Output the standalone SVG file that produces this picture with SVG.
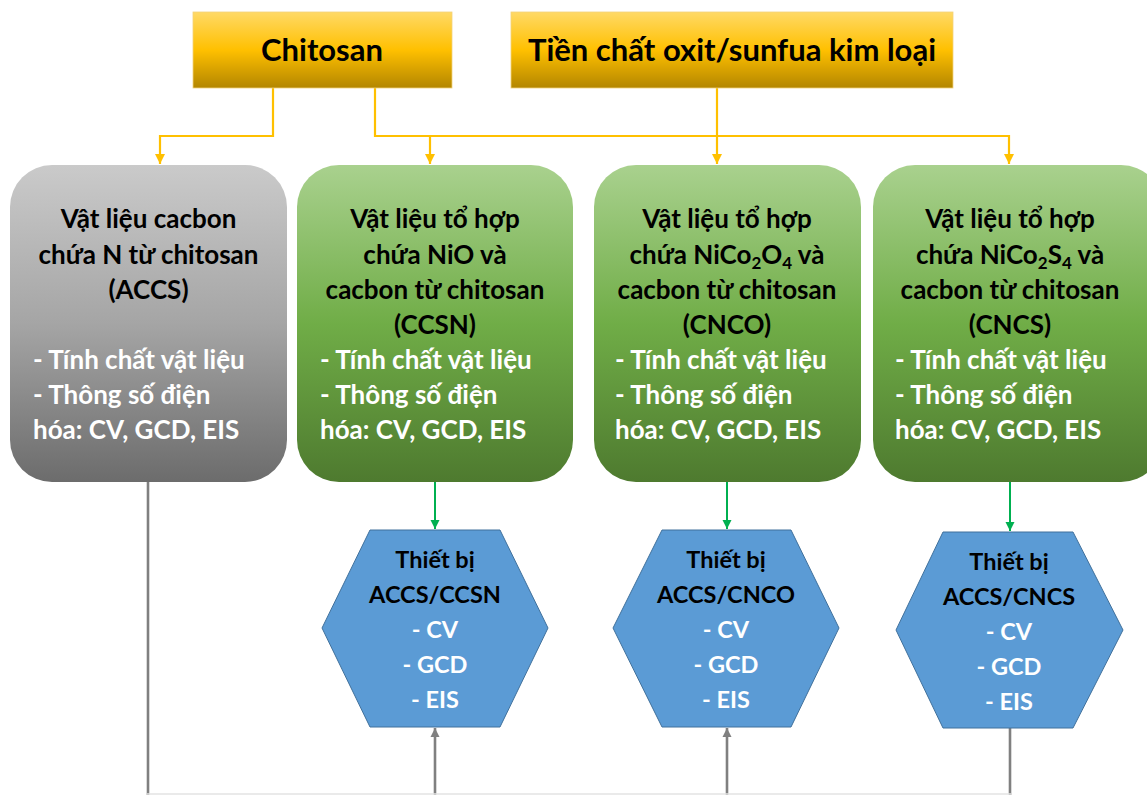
<svg xmlns="http://www.w3.org/2000/svg" width="1147" height="795" viewBox="0 0 1147 795">
<style>
text{font-family:Lato,"Liberation Sans",sans-serif;font-weight:bold}
.t{font-size:31px;fill:#000;text-anchor:middle}
.b{font-size:26px;fill:#000;text-anchor:middle}
.w{font-size:26px;fill:#fff}
.h{font-size:23.5px;fill:#000;text-anchor:middle}
.wc{font-size:23.5px;fill:#fff;text-anchor:middle}
.or{stroke:#ffc000;stroke-width:2.2;fill:none}
.gr{stroke:#00b050;stroke-width:2;fill:none}
.gy{stroke:#808080;stroke-width:2.6;fill:none}
.hex{fill:#5b9bd5;stroke:#41719c;stroke-width:1}
</style>
<defs>
<linearGradient id="gold" x1="0" y1="0" x2="0" y2="1">
<stop offset="0" stop-color="#ffd966"/><stop offset="0.5" stop-color="#ffc000"/><stop offset="1" stop-color="#b38600"/>
</linearGradient>
<linearGradient id="green" x1="0" y1="0" x2="0" y2="1">
<stop offset="0" stop-color="#a9d18e"/><stop offset="0.5" stop-color="#70ad47"/><stop offset="1" stop-color="#4e7a2f"/>
</linearGradient>
<linearGradient id="gray" x1="0" y1="0" x2="0" y2="1">
<stop offset="0" stop-color="#cacaca"/><stop offset="0.5" stop-color="#a5a5a5"/><stop offset="1" stop-color="#6c6c6c"/>
</linearGradient>
<marker id="ag" markerWidth="10" markerHeight="10" refX="9" refY="5" orient="auto" markerUnits="userSpaceOnUse" viewBox="0 0 10 10">
<path d="M0,0.5 L9,5 L0,9.5 Z" fill="#00b050"/>
</marker>
<marker id="ay" markerWidth="10" markerHeight="10" refX="9" refY="5" orient="auto" markerUnits="userSpaceOnUse" viewBox="0 0 10 10">
<path d="M0,0.5 L9,5 L0,9.5 Z" fill="#808080"/>
</marker>
<marker id="aor" markerWidth="12" markerHeight="12" refX="10" refY="6" orient="auto" markerUnits="userSpaceOnUse" viewBox="0 0 12 12">
<path d="M0,1 L10,6 L0,11 Z" fill="#ffc000"/>
</marker>
</defs>

<g id="connectors">
<path class="or" d="M273,88 V136 H160 V164" marker-end="url(#aor)"/>
<path class="or" d="M375,88 V136 H1009 V164" marker-end="url(#aor)"/>
<path class="or" d="M430,136 V164" marker-end="url(#aor)"/>
<path class="or" d="M717,88 V164" marker-end="url(#aor)"/>
<path class="gr" d="M435,482 V529" marker-end="url(#ag)"/>
<path class="gr" d="M727,482 V529" marker-end="url(#ag)"/>
<path class="gr" d="M1010,482 V531" marker-end="url(#ag)"/>
<path class="gy" d="M148,482 V795"/>
<path class="gy" d="M435,795 V728" marker-end="url(#ay)"/>
<path class="gy" d="M727,795 V728" marker-end="url(#ay)"/>
<path class="gy" d="M1010,795 V728"/>
<line x1="147" y1="794" x2="1011" y2="794" stroke="#e3e3e3" stroke-width="1.5"/>
</g>

<g id="chitosan">
<rect x="193" y="12" width="259" height="76" fill="url(#gold)" stroke="#f2d27a" stroke-width="0.8"/>
<text class="t" x="322" y="61">Chitosan</text>
</g>
<g id="tienchat">
<rect x="511" y="12" width="442" height="76" fill="url(#gold)" stroke="#f2d27a" stroke-width="0.8"/>
<text class="t" x="732" y="61">Tiền chất oxit/sunfua kim loại</text>
</g>

<g id="accs">
<rect x="10" y="165" width="277" height="317" rx="42" fill="url(#gray)"/>
<text class="b" x="148.5" y="228">Vật liệu cacbon</text>
<text class="b" x="148.5" y="264">chứa N từ chitosan</text>
<text class="b" x="148.5" y="299">(ACCS)</text>
<text class="w" x="33" y="369">- Tính chất vật liệu</text>
<text class="w" x="33" y="404">- Thông số điện</text>
<text class="w" x="33" y="439">hóa: CV, GCD, EIS</text>
</g>

<g id="ccsn">
<rect x="297" y="165" width="276" height="317" rx="42" fill="url(#green)"/>
<text class="b" x="435" y="228">Vật liệu tổ hợp</text>
<text class="b" x="435" y="264">chứa NiO và</text>
<text class="b" x="435" y="299">cacbon từ chitosan</text>
<text class="b" x="435" y="334">(CCSN)</text>
<text class="w" x="320" y="369">- Tính chất vật liệu</text>
<text class="w" x="320" y="404">- Thông số điện</text>
<text class="w" x="320" y="439">hóa: CV, GCD, EIS</text>
</g>

<g id="cnco">
<rect x="594" y="165" width="267" height="317" rx="42" fill="url(#green)"/>
<text class="b" x="727" y="228">Vật liệu tổ hợp</text>
<text class="b" x="727" y="264">chứa NiCo<tspan font-size="17" dy="5">2</tspan><tspan dy="-5">O</tspan><tspan font-size="17" dy="5">4</tspan><tspan dy="-5"> và</tspan></text>
<text class="b" x="727" y="299">cacbon từ chitosan</text>
<text class="b" x="727" y="334">(CNCO)</text>
<text class="w" x="615" y="369">- Tính chất vật liệu</text>
<text class="w" x="615" y="404">- Thông số điện</text>
<text class="w" x="615" y="439">hóa: CV, GCD, EIS</text>
</g>

<g id="cncs">
<rect x="873" y="165" width="290" height="317" rx="42" fill="url(#green)"/>
<text class="b" x="1010" y="228">Vật liệu tổ hợp</text>
<text class="b" x="1010" y="264">chứa NiCo<tspan font-size="17" dy="5">2</tspan><tspan dy="-5">S</tspan><tspan font-size="17" dy="5">4</tspan><tspan dy="-5"> và</tspan></text>
<text class="b" x="1010" y="299">cacbon từ chitosan</text>
<text class="b" x="1010" y="334">(CNCS)</text>
<text class="w" x="895" y="369">- Tính chất vật liệu</text>
<text class="w" x="895" y="404">- Thông số điện</text>
<text class="w" x="895" y="439">hóa: CV, GCD, EIS</text>
</g>

<g id="dev1">
<polygon class="hex" points="370,530 500,530 548,628 500,727 370,727 322,628"/>
<text class="h" x="435" y="568">Thiết bị</text>
<text class="h" x="435" y="603">ACCS/CCSN</text>
<text class="wc" x="435" y="638">- CV</text>
<text class="wc" x="435" y="673">- GCD</text>
<text class="wc" x="435" y="708">- EIS</text>
</g>
<g id="dev2">
<polygon class="hex" points="662,530 791,530 839,628 791,727 662,727 613,628"/>
<text class="h" x="726" y="568">Thiết bị</text>
<text class="h" x="726" y="603">ACCS/CNCO</text>
<text class="wc" x="726" y="638">- CV</text>
<text class="wc" x="726" y="673">- GCD</text>
<text class="wc" x="726" y="708">- EIS</text>
</g>
<g id="dev3">
<polygon class="hex" points="943,532 1073,532 1123,630 1073,728 943,728 896,630"/>
<text class="h" x="1009" y="570">Thiết bị</text>
<text class="h" x="1009" y="605">ACCS/CNCS</text>
<text class="wc" x="1009" y="640">- CV</text>
<text class="wc" x="1009" y="675">- GCD</text>
<text class="wc" x="1009" y="710">- EIS</text>
</g>
</svg>
